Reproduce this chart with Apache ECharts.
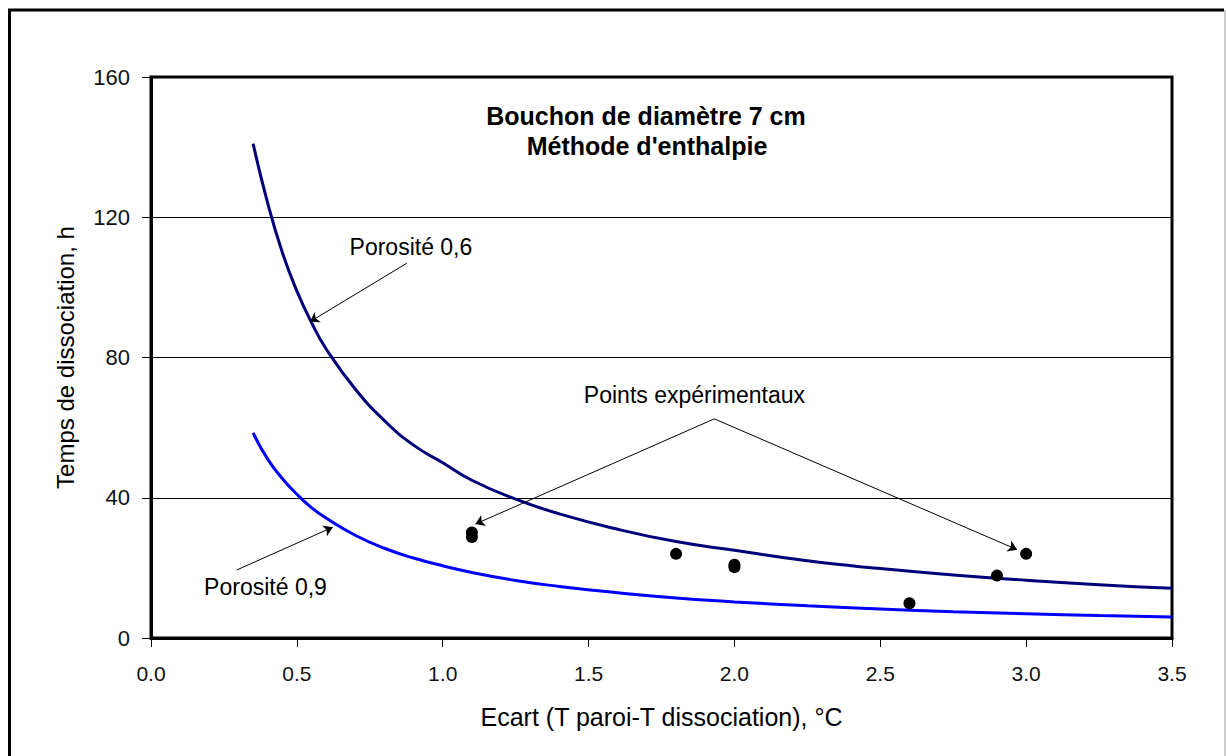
<!DOCTYPE html>
<html>
<head>
<meta charset="utf-8">
<script src="https://cdn.jsdelivr.net/npm/echarts@6/dist/echarts.min.js"></script>
<style>
html,body{margin:0;padding:0;background:#fff;}
#c{width:1226px;height:756px;}
</style>
</head>
<body>
<div id="c"></div>
<script>
// ---- data ----
const xCurve  = [0.35, 0.40, 0.45, 0.50, 0.55, 0.60, 0.70, 0.80, 0.90, 1.00, 1.10, 1.25, 1.40, 1.60, 1.80, 2.00, 2.25, 2.50, 2.75, 3.00, 3.25, 3.50];
const poro06  = [141, 124, 110, 99, 90, 82.5, 71, 62, 55, 50, 45, 39.6, 35.4, 31, 27.5, 25, 22, 19.8, 18, 16.5, 15.2, 14.2];
const poro09  = [58.5, 51, 45.5, 41, 37.2, 34.2, 29.3, 25.6, 22.8, 20.6, 18.7, 16.4, 14.7, 12.9, 11.4, 10.3, 9.2, 8.3, 7.5, 6.9, 6.4, 6.0];
const expX    = [1.1, 1.1, 1.8, 2.0, 2.0, 2.6, 2.9, 3.0];
const expY    = [30.1, 28.8, 24.0, 20.9, 20.2, 9.9, 17.8, 24.0];
const xTickLabels = ['0.0', '0.5', '1.0', '1.5', '2.0', '2.5', '3.0', '3.5'];
const yTickLabels = ['0', '40', '80', '120', '160'];
const titleLines = ['Bouchon de diamètre 7 cm', "Méthode d'enthalpie"];
const xName = 'Ecart (T paroi-T dissociation), °C';
const yName = 'Temps de dissociation, h';
const noteTexts = ['Porosité 0,6', 'Porosité 0,9', 'Points expérimentaux'];
const noteAt    = [[0.891, 111.4], [0.3925, 14.5], [1.863, 69.4]];
const arrowFrom = [[0.877, 106.9], [0.294, 19.4], [1.931, 62.5], [1.931, 62.5]];
const arrowTo   = [[0.545, 90.2], [0.623, 31.6], [1.112, 32.5], [2.969, 25.2]];

const FONT = '"Liberation Sans", Arial, sans-serif';
const chart = echarts.init(document.getElementById('c'), null, {renderer: 'svg'});

const option = {
  animation: false,
  backgroundColor: 'transparent',
  textStyle: {fontFamily: FONT, color: '#000'},
  graphic: [
    {type: 'polyline', silent: true, shape: {points: [[9.5, 760], [9.5, 10], [1224, 10]]},
     style: {stroke: '#000', lineWidth: 3, fill: null}},
    {type: 'line', silent: true, shape: {x1: 1225, y1: 10, x2: 1225, y2: 760},
     style: {stroke: '#9a9a9a', lineWidth: 1}},
    {type: 'text', silent: true, x: 646, y: 115.5,
     style: {text: titleLines[0], font: 'bold 25px ' + FONT, fill: '#000',
             align: 'center', verticalAlign: 'middle', textAlign: 'center', textVerticalAlign: 'middle'}},
    {type: 'text', silent: true, x: 647, y: 145.5,
     style: {text: titleLines[1], font: 'bold 25px ' + FONT, fill: '#000',
             align: 'center', verticalAlign: 'middle', textAlign: 'center', textVerticalAlign: 'middle'}}
  ],
  grid: {left: 151, right: 54, top: 77, bottom: 118, show: true, borderColor: '#000', borderWidth: 3,
         outerBoundsMode: 'none', containLabel: false},
  xAxis: {
    type: 'value', min: 0, max: 3.5, interval: 0.5,
    name: xName, nameLocation: 'middle', nameGap: 66,
    nameTextStyle: {fontSize: 25, color: '#000', fontFamily: FONT},
    axisLine: {show: true, onZero: false, lineStyle: {color: '#000', width: 3}},
    axisTick: {show: true, inside: false, length: 9, lineStyle: {color: '#000', width: 1}},
    axisLabel: {show: true, margin: 25, fontSize: 21, color: '#111', fontFamily: FONT,
                showMinLabel: true, showMaxLabel: true,
                formatter: (v) => xTickLabels[Math.round(v / 0.5)]},
    splitLine: {show: false}
  },
  yAxis: {
    type: 'value', min: 0, max: 160, interval: 40,
    name: yName, nameLocation: 'middle', nameGap: 74,
    nameTextStyle: {fontSize: 24, color: '#000', fontFamily: FONT},
    axisLine: {show: true, onZero: false, lineStyle: {color: '#000', width: 3}},
    axisTick: {show: true, inside: false, length: 9, lineStyle: {color: '#000', width: 1}},
    axisLabel: {show: true, margin: 21, fontSize: 22, color: '#111', fontFamily: FONT,
                showMinLabel: true, showMaxLabel: true,
                formatter: (v) => yTickLabels[Math.round(v / 40)]},
    splitLine: {show: true, lineStyle: {color: '#000', width: 1}}
  },
  series: [
    {
      name: 'Porosité 0,6', type: 'line', smooth: true, symbol: 'none',
      data: xCurve.map((x, i) => [x, poro06[i]]),
      lineStyle: {color: '#00007a', width: 3}, z: 3, silent: true
    },
    {
      name: 'Porosité 0,9', type: 'line', smooth: true, symbol: 'none',
      data: xCurve.map((x, i) => [x, poro09[i]]),
      lineStyle: {color: '#0000ff', width: 3}, z: 3, silent: true
    },
    {
      name: 'Points expérimentaux', type: 'scatter', symbol: 'circle', symbolSize: 12,
      data: expX.map((x, i) => [x, expY[i]]),
      itemStyle: {color: '#000', opacity: 1}, z: 5, silent: true,
      markLine: {
        silent: true, animation: false,
        symbol: ['none', 'arrow'], symbolSize: 9,
        label: {show: false},
        lineStyle: {color: '#000', width: 1, type: 'solid', opacity: 1},
        emphasis: {disabled: true},
        data: arrowFrom.map((p, i) => [{coord: p}, {coord: arrowTo[i]}])
      },
      markPoint: {
        silent: true, animation: false,
        symbol: 'circle', symbolSize: 0,
        itemStyle: {color: 'transparent'},
        label: {show: true, position: 'inside', formatter: '{b}', fontSize: 23, color: '#000', fontFamily: FONT},
        emphasis: {disabled: true},
        data: noteTexts.map((t, i) => ({name: t, coord: noteAt[i], value: 0}))
      }
    }
  ]
};
chart.setOption(option);
</script>
</body>
</html>
